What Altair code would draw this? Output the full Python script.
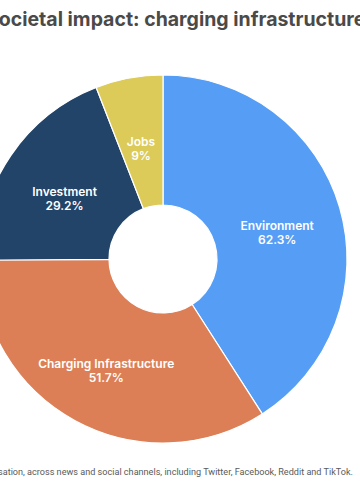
import altair as alt
import pandas as pd

categories = ["Environment", "Charging Infrastructure", "Investment", "Jobs"]
values = [62.3, 51.7, 29.2, 9.0]
value_labels = ["62.3%", "51.7%", "29.2%", "9%"]
colors = ["#569ef5", "#dc7f56", "#224469", "#dccb58"]

title_text = "Societal impact: charging infrastructure"
footer_text = "Source: share of conversation, across news and social channels, including Twitter, Facebook, Reddit and TikTok."

df = pd.DataFrame({
    "category": categories,
    "value": values,
    "label": [f"{c}\n{v}" for c, v in zip(categories, value_labels)],
    "order": list(range(len(categories))),
})

CX, CY = 163, 259

base = alt.Chart(df).encode(
    theta=alt.Theta("value:Q", stack=True),
    order=alt.Order("order:Q"),
    x=alt.value(CX),
    y=alt.value(CY),
)

arcs = base.mark_arc(outerRadius=184, innerRadius=54, stroke="white", strokeWidth=1.2).encode(
    color=alt.Color("category:N", scale=alt.Scale(domain=categories, range=colors), legend=None)
)

labels = base.mark_text(
    radius=119, color="white", fontSize=12, fontWeight=600, font="Inter",
    lineBreak="\n", align="center", baseline="middle", lineHeight=14
).encode(text="label:N")

tdf = pd.DataFrame({"t": [title_text]})
title = alt.Chart(tdf).mark_text(
    align="left", baseline="alphabetic", fontSize=19.5, fontWeight="bold",
    font="Inter", color="#4a4a4a"
).encode(text="t:N", x=alt.value(-14), y=alt.value(26))

fdf = pd.DataFrame({"t": [footer_text]})
footer = alt.Chart(fdf).mark_text(
    align="right", baseline="middle", fontSize=9.1, font="Roboto", color="#5a5a5a"
).encode(text="t:N", x=alt.value(353), y=alt.value(472))

chart = alt.layer(arcs, labels, title, footer).properties(
    width=360, height=500,
    autosize=alt.AutoSizeParams(type="none"),
    padding=0,
).configure_view(stroke=None)

chart.save("out.html", embed_options={"renderer": "svg", "actions": False})
